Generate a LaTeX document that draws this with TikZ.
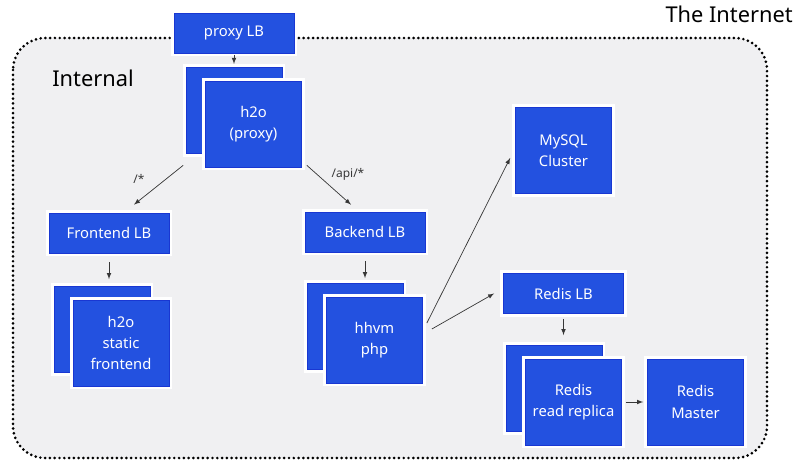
\documentclass[tikz,border=0pt]{standalone}
\usepackage{fontspec}
\setmainfont{Noto Sans}
\usepackage{tikz}
\usetikzlibrary{arrows}
\usetikzlibrary{calc}
\definecolor{boxblue}{RGB}{35,81,224}
\definecolor{boxedge}{RGB}{25,55,210}
\definecolor{zonegray}{RGB}{240,240,242}
\definecolor{linkgray}{RGB}{55,55,55}

\begin{document}
\begin{tikzpicture}[x=0.025cm, y=-0.025cm,
	box/.style={fill=boxblue, draw=boxedge, line width=0.5pt, text=white, align=center, inner sep=0pt,
		font=\fontsize{10.5}{15}\selectfont, preaction={draw=white, line width=4.5pt}},
	lbbox/.style={box, minimum width=3cm, minimum height=1cm},
	sqbox/.style={box, minimum width=2.4cm, minimum height=2.15cm},
	link/.style={linkgray, line width=0.5pt, -latex},
	pathlabel/.style={linkgray, font=\fontsize{8.5}{10}\selectfont},
	zonelabel/.style={inner sep=0pt, font=\fontsize{15.5}{18}\selectfont}]
	\useasboundingbox (0,0) rectangle (800,464);
	\draw[fill=zonegray, line width=2.1pt, line cap=round, dash pattern=on 0pt off 3.4pt, rounded corners=0.8cm]
		(13,38) rectangle (767,458);
	\node[zonelabel, anchor=base east] (internet) at (793,23) {The Internet};
	\node[zonelabel, anchor=base west] (internal) at (52,87) {Internal};

	\node[lbbox] (proxylb) at (234,33) {proxy LB};
	\node[sqbox] (h2oback) at (234,110.5) {};
	\node[sqbox] (h2o) at (253.5,124) {h2o\\(proxy)};

	\node[lbbox] (felb) at (109,233) {Frontend LB};
	\node[sqbox] (feback) at (102,329.5) {};
	\node[sqbox] (fe) at (121,343) {h2o\\static\\frontend};

	\node[lbbox] (belb) at (365,232) {Backend LB};
	\node[sqbox] (hhvmback) at (355,326.5) {};
	\node[sqbox] (hhvm) at (374.5,340) {hhvm\\php};

	\node[sqbox] (mysql) at (563.5,150.5) {MySQL\\Cluster};
	\node[lbbox] (redislb) at (563.5,293.5) {Redis LB};
	\node[sqbox] (replicaback) at (554,388.5) {};
	\node[sqbox] (replica) at (573.5,402) {Redis\\read replica};
	\node[sqbox] (master) at (695.5,402) {Redis\\Master};

	\draw[link, shorten <=0.05cm, shorten >=0.08cm] (proxylb) -- (h2oback);
	\draw[link] ($(h2o.south west)+(-22,-2)$) -- ($(felb.north)+(25,-8)$);
	\draw[link] ($(h2o.south east)+(5,-2)$) -- ($(belb.north)+(-14,-7)$);
	\node[pathlabel] (rootpath) at (139,179) {/*};
	\node[pathlabel] (apipath) at (348,174) {/api/*};
	\draw[link, shorten <=0.225cm, shorten >=0.175cm] (felb) -- (felb |- feback.north);
	\draw[link, shorten <=0.225cm, shorten >=0.125cm] (belb) -- (belb |- hhvmback.north);
	\draw[link] ($(hhvm.east)+(4,-17)$) -- ($(mysql.west)+(-5,7.5)$);
	\draw[link] ($(hhvm.east)+(9,-11)$) -- ($(redislb.west)+(-9,0)$);
	\draw[link, shorten <=0.125cm, shorten >=0.25cm] (redislb) -- (redislb |- replicaback.north);
	\draw[link, shorten <=0.1cm, shorten >=0.1cm] (replica) -- (master);
\end{tikzpicture}
\end{document}
